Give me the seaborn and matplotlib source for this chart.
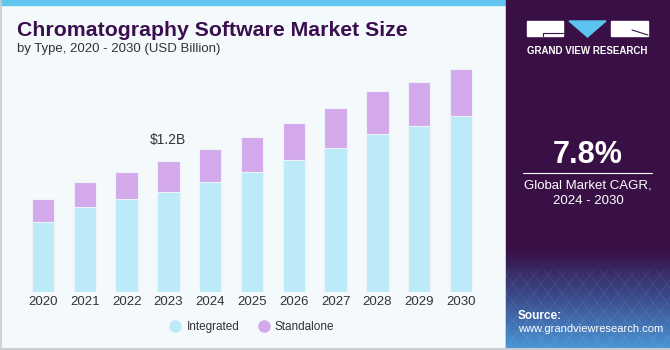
import numpy as np
import pandas as pd
import matplotlib.pyplot as plt
import seaborn as sns
from matplotlib.patches import Rectangle, Polygon
from matplotlib.lines import Line2D
from matplotlib.colors import LinearSegmentedColormap

# Data (USD Billion)
years = ['2020', '2021', '2022', '2023', '2024', '2025', '2026', '2027', '2028', '2029', '2030']
integrated = [0.64, 0.78, 0.85, 0.92, 1.01, 1.10, 1.21, 1.32, 1.45, 1.52, 1.62]
standalone = [0.21, 0.23, 0.25, 0.28, 0.30, 0.32, 0.34, 0.37, 0.40, 0.41, 0.43]
series_names = ['Integrated', 'Standalone']
callout_year = '2023'
callout_text = '$1.2B'

blue = '#BDEAF9'
purple = '#D4A9EC'
dark = '#381046'

df = pd.DataFrame({'year': years, 'Integrated': integrated, 'Standalone': standalone})
df['total'] = df['Integrated'] + df['Standalone']

sns.set_theme(style='white')
plt.rcParams['font.family'] = ['Liberation Sans', 'DejaVu Sans']

fig = plt.figure(figsize=(6.7, 3.5), dpi=100)

# Background panels drawn in pixel coordinates
bg = fig.add_axes([0, 0, 1, 1], zorder=0)
bg.set_xlim(0, 670)
bg.set_ylim(350, 0)
bg.axis('off')
bg.add_patch(Rectangle((0, 0), 506, 350, color='#F4F9FC'))
bg.add_patch(Rectangle((0, 0), 506, 5, color='#62C6EE'))
bg.add_patch(Rectangle((506, 0), 164, 350, color=dark))
bg.plot([0.5, 0.5], [0, 350], color='#C9CDD2', lw=1.2)
bg.plot([0, 670], [349, 349], color='#C9CDD2', lw=1.5)

# gradient at the bottom of the right panel
grad_cmap = LinearSegmentedColormap.from_list('g', [dark, '#3A4E8E', '#4A94D4'])
grad = np.linspace(0, 1, 100).reshape(-1, 1)
bg.imshow(grad, cmap=grad_cmap, extent=[506, 670, 348, 250], aspect='auto', zorder=1)
for k in range(-8, 16):
    bg.plot([506 + k * 14, 506 + k * 14 + 60], [348, 270], color='white', lw=0.4, alpha=0.12, zorder=2)
    bg.plot([506 + k * 14, 506 + k * 14 - 60], [348, 270], color='white', lw=0.4, alpha=0.12, zorder=2)
bg.set_xlim(0, 670)
bg.set_ylim(350, 0)

# logo
bg.add_patch(Rectangle((527, 21), 36, 15, color='white', zorder=3))
bg.add_patch(Polygon([[569, 21], [606, 21], [587.5, 37]], color='#5BC4F0', zorder=3))
bg.add_patch(Rectangle((611, 21), 37, 15, color='white', zorder=3))
bg.plot([543, 563], [32.5, 32.5], color=dark, lw=0.8, zorder=4)
bg.plot([543, 543], [32.5, 36], color=dark, lw=0.8, zorder=4)
bg.plot([632, 648], [30, 35], color=dark, lw=0.8, zorder=4)
bg.text(587.5, 51.5, 'GRAND VIEW RESEARCH', color='white', fontsize=7, weight='bold',
        ha='center', va='center', zorder=4)

# CAGR box
bg.text(588, 155, '7.8%', color='white', fontsize=22, weight='bold', ha='center', va='center', zorder=4)
bg.plot([523, 652], [173, 173], color='white', lw=0.8, zorder=4)
bg.text(588, 185, 'Global Market CAGR,', color='white', fontsize=9.5, ha='center', va='center', zorder=4)
bg.text(588, 201, '2024 - 2030', color='white', fontsize=9.5, ha='center', va='center', zorder=4)
bg.text(518, 316, 'Source:', color='white', fontsize=8.5, weight='bold', ha='left', va='center', zorder=4)
bg.text(518, 329, 'www.grandviewresearch.com', color='white', fontsize=8, ha='left', va='center', zorder=4)

# titles
bg.text(17, 30, 'Chromatography Software Market Size', color='#3B0F4F', fontsize=15.3,
        weight='bold', ha='left', va='center')
bg.text(17, 49, 'by Type, 2020 - 2030 (USD Billion)', color='#333333', fontsize=9.5,
        ha='left', va='center')

# Stacked bars
ax = fig.add_axes([22.1 / 670, 0.1666, 459.8 / 670, 239.1 / 350], zorder=2)
ax.patch.set_alpha(0)
sns.barplot(data=df, x='year', y='total', color=purple, saturation=1, width=0.54,
            edgecolor='#EEF3FA', linewidth=0.8, ax=ax)
sns.barplot(data=df, x='year', y='Integrated', color=blue, saturation=1, width=0.54,
            edgecolor='#EEF3FA', linewidth=0.8, ax=ax)
ax.set_xlim(-0.5, len(years) - 0.5)
ax.set_ylim(0, 2.2)
ax.set_xlabel('')
ax.set_ylabel('')
ax.set_yticks([])
for s in ax.spines.values():
    s.set_visible(False)
ax.tick_params(axis='x', length=0, labelsize=9.5, labelcolor='#333333', pad=3)

i = years.index(callout_year)
ax.text(i, df['total'][i] + 0.2, callout_text, ha='center', va='center', fontsize=10, color='#333333')

handles = [Line2D([0], [0], marker='o', linestyle='', markersize=8,
                  markerfacecolor=c, markeredgecolor=c) for c in (blue, purple)]
fig.legend(handles, series_names, loc='center', bbox_to_anchor=(252 / 670, 1 - 327 / 350),
           ncol=2, frameon=False, fontsize=8.5, handlelength=1.0, handletextpad=0.43,
           columnspacing=1.6, labelcolor='#333333', borderpad=0, borderaxespad=0)

fig.savefig('out.png', dpi=100)
